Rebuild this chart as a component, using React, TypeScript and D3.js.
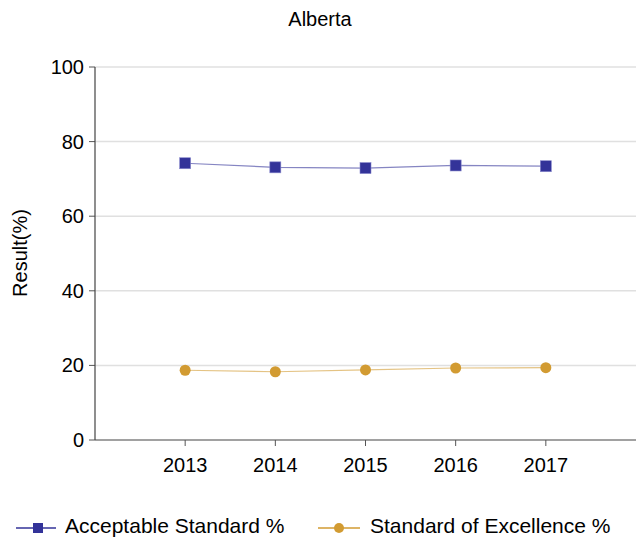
import React from "react";
import * as d3 from "d3";

const years = [2013, 2014, 2015, 2016, 2017];
const acceptable = [74.2, 73.1, 72.9, 73.6, 73.4];
const excellence = [18.7, 18.3, 18.8, 19.3, 19.4];
const yTicks = [0, 20, 40, 60, 80, 100];
const title = "Alberta";
const yLabel = "Result(%)";
const seriesNames = ["Acceptable Standard %", "Standard of Excellence %"];

const W = 636, H = 538;
const blue = "#333399";
const gold = "#D29B32";
const font = "Liberation Sans, Arial, sans-serif";

export default function App() {
  const x = d3.scaleLinear().domain([2012, 2018]).range([95, 636]);
  const y = d3.scaleLinear().domain([0, 100]).range([440, 67]);
  const line = d3.line<number>().x((_, i) => x(years[i])).y((v) => y(v));
  return (
    <svg width={W} height={H} style={{ position: "absolute", left: 0, top: 0 }} fontFamily={font}>
      <rect width={W} height={H} fill="#fff" />
      <text x={320} y={26} textAnchor="middle" fontSize={20}>{title}</text>
      {yTicks.map((t) => (
        <g key={t}>
          {t > 0 && <line x1={95} x2={636} y1={y(t)} y2={y(t)} stroke="#e0e0e0" strokeWidth={1.5} />}
          <line x1={89} x2={95} y1={y(t)} y2={y(t)} stroke="#555" />
          <text x={84} y={y(t) + 7} textAnchor="end" fontSize={20}>{t}</text>
        </g>
      ))}
      <line x1={95} x2={95} y1={67} y2={440} stroke="#444" strokeWidth={1.2} />
      <line x1={95} x2={636} y1={440} y2={440} stroke="#444" strokeWidth={1.2} />
      {years.map((yr) => (
        <g key={yr}>
          <line x1={x(yr)} x2={x(yr)} y1={440} y2={446} stroke="#555" />
          <text x={x(yr)} y={472} textAnchor="middle" fontSize={20}>{yr}</text>
        </g>
      ))}
      <text transform={`translate(27,253) rotate(-90)`} textAnchor="middle" fontSize={20}>{yLabel}</text>
      <path d={line(acceptable) || ""} fill="none" stroke={blue} strokeOpacity={0.6} strokeWidth={1.2} />
      <path d={line(excellence) || ""} fill="none" stroke={gold} strokeOpacity={0.6} strokeWidth={1.2} />
      {acceptable.map((v, i) => (
        <rect key={i} x={x(years[i]) - 5.5} y={y(v) - 5.5} width={11} height={11} fill={blue} stroke="#8888cc" strokeWidth={0.6} />
      ))}
      {excellence.map((v, i) => (
        <circle key={i} cx={x(years[i])} cy={y(v)} r={5.5} fill={gold} />
      ))}
      <g>
        <line x1={16} x2={56} y1={528} y2={528} stroke={blue} strokeWidth={1.5} />
        <rect x={33} y={523} width={10} height={10} fill={blue} />
        <text x={65} y={533} fontSize={21}>{seriesNames[0]}</text>
        <line x1={318} x2={360} y1={528} y2={528} stroke={gold} strokeWidth={1.5} />
        <circle cx={339} cy={528} r={5} fill={gold} />
        <text x={370} y={533} fontSize={21}>{seriesNames[1]}</text>
      </g>
    </svg>
  );
}
